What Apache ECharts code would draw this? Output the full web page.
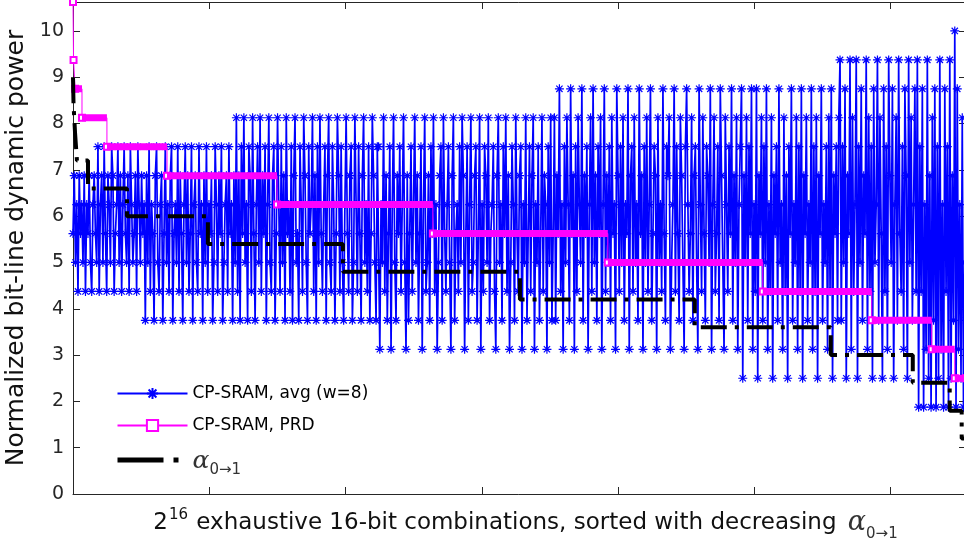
<!DOCTYPE html>
<html>
<head>
<meta charset="utf-8">
<script src="https://cdn.jsdelivr.net/npm/echarts@6/dist/echarts.min.js"></script>
<style>
html,body{margin:0;padding:0;background:#fff;}
#chart{width:964px;height:539px;}
</style>
</head>
<body>
<div id="chart"></div>
<script>
// ---- Data ----
const xMax = 65536;             // 2^16 combinations
const xTickStep = 10000;
const yTickLabels = [0,1,2,3,4,5,6,7,8,9,10];

// CP-SRAM, avg (w=8): values sampled evenly across the sorted combinations
const avgValues = [
 // region 0 .. ~5100
 5.625,6.875,5,6.25,4.375,6.875,5.625,6.25,5,6.875,
 4.375,6.25,5.625,6.875,5,4.375,6.25,6.875,5.625,5,
 7.5,4.375,6.25,6.875,5,7.5,5.625,4.375,6.875,6.25,
 5,7.5,6.875,4.375,5.625,6.25,7.5,5,6.875,4.375,
 6.25,7.5,5.625,5,6.875,4.375,7.5,6.25,5,5.625,
 6.875,4.375,7.5,6.25,5,6.875,5.625,
 // region ~5100 .. ~11800
 6.25,3.75,6.875,5,7.5,4.375,6.25,5.625,3.75,6.875,
 7.5,5,4.375,6.25,6.875,3.75,5.625,7.5,5,6.25,
 4.375,6.875,7.5,3.75,5.625,6.25,5,7.5,4.375,6.875,
 5.625,3.75,6.25,7.5,5,6.875,4.375,5.625,7.5,3.75,
 6.25,6.875,5,4.375,7.5,5.625,6.25,3.75,6.875,5,
 7.5,4.375,6.25,5.625,6.875,3.75,5,7.5,6.25,4.375,
 6.875,5.625,7.5,3.75,5,6.25,6.875,4.375,7.5,5.625,
 6.25,3.75,6.875,5,
 // region ~11800 .. ~22200
 8.125,4.375,6.875,3.75,7.5,5.625,8.125,5,6.25,3.75,
 7.5,6.875,4.375,8.125,5.625,3.75,6.25,7.5,5,8.125,
 4.375,6.875,5.625,7.5,3.75,6.25,8.125,5,4.375,6.875,
 7.5,3.75,5.625,8.125,6.25,4.375,7.5,5,6.875,3.75,
 8.125,5.625,6.25,4.375,7.5,3.75,6.875,8.125,5,5.625,
 3.75,7.5,6.25,4.375,8.125,6.875,5,3.75,7.5,5.625,
 6.25,8.125,4.375,6.875,3.75,7.5,5,8.125,5.625,4.375,
 6.25,7.5,3.75,6.875,8.125,5,4.375,7.5,6.25,3.75,
 5.625,8.125,6.875,4.375,7.5,5,3.75,6.25,8.125,5.625,
 4.375,6.875,7.5,3.75,5,8.125,6.25,4.375,7.5,5.625,
 3.75,6.875,8.125,5,6.25,4.375,7.5,3.75,5.625,8.125,
 6.875,5,3.75,7.5,
 // region ~22200 .. ~35000
 7.5,3.125,6.25,5,8.125,4.375,6.875,3.75,5.625,7.5,
 3.125,6.25,8.125,5,3.75,6.875,5.625,7.5,4.375,6.25,
 8.125,5,3.125,6.875,3.75,5.625,7.5,4.375,6.25,8.125,
 5,6.875,3.75,5.625,7.5,3.125,6.25,8.125,4.375,5,
 6.875,3.75,7.5,5.625,8.125,4.375,6.25,3.125,5,6.875,
 7.5,3.75,8.125,5.625,4.375,6.25,7.5,5,3.125,6.875,
 8.125,3.75,5.625,6.25,4.375,7.5,5,8.125,6.875,3.125,
 5.625,7.5,3.75,6.25,8.125,4.375,5,6.875,7.5,3.75,
 5.625,8.125,3.125,6.25,4.375,7.5,6.875,5,8.125,3.75,
 5.625,6.25,7.5,4.375,3.125,6.875,8.125,5,6.25,3.75,
 7.5,5.625,8.125,4.375,6.875,3.125,5,7.5,6.25,3.75,
 8.125,5.625,4.375,6.875,7.5,3.125,6.25,5,8.125,3.75,
 5.625,7.5,4.375,6.875,8.125,3.125,6.25,5,7.5,3.75,
 5.625,8.125,4.375,6.875,6.25,3.125,7.5,5,8.125,3.75,
 5.625,
 // region ~35000 .. ~48600
 8.125,3.75,6.875,5.625,8.75,4.375,6.25,3.125,7.5,5,
 8.125,6.25,3.75,8.75,5.625,6.875,3.125,7.5,4.375,8.125,
 6.25,5,8.75,3.75,6.875,5.625,7.5,3.125,6.25,8.125,
 4.375,8.75,5,6.875,3.75,7.5,5.625,8.125,3.125,6.25,
 8.75,4.375,6.875,5,7.5,3.75,8.125,5.625,6.25,3.125,
 8.75,6.875,4.375,7.5,5,8.125,3.75,6.25,5.625,8.75,
 3.125,6.875,7.5,4.375,8.125,5,6.25,3.75,8.75,5.625,
 6.875,3.125,7.5,5,8.125,4.375,6.25,8.75,3.75,5.625,
 7.5,6.875,3.125,8.125,5,6.25,4.375,8.75,5.625,3.75,
 7.5,6.875,8.125,3.125,5,6.25,8.75,4.375,7.5,5.625,
 3.75,8.125,6.875,5,3.125,7.5,8.75,6.25,4.375,5.625,
 8.125,3.75,6.875,7.5,5,3.125,8.75,6.25,4.375,8.125,
 5.625,3.75,7.5,6.875,5,8.75,3.125,6.25,8.125,4.375,
 5.625,7.5,3.75,8.75,6.875,5,3.125,8.125,6.25,4.375,
 7.5,5.625,8.75,3.75,6.875,5,8.125,3.125,6.25,7.5,
 // region ~48600 .. ~56100
 8.75,2.5,6.875,5,8.125,3.75,7.5,5.625,8.75,3.125,
 6.25,4.375,8.75,2.5,6.875,5.625,8.125,3.75,7.5,5,
 8.75,3.125,6.25,4.375,8.125,2.5,6.875,5.625,7.5,3.75,
 8.75,5,6.25,3.125,8.125,4.375,6.875,2.5,7.5,5.625,
 8.75,3.75,6.25,5,8.125,3.125,7.5,4.375,8.75,2.5,
 6.875,5.625,8.125,3.75,6.25,5,8.75,3.125,7.5,4.375,
 8.125,2.5,6.875,5.625,8.75,3.75,6.25,5,7.5,3.125,
 8.125,4.375,8.75,2.5,6.875,5.625,7.5,3.75,8.125,
 // region ~56100 .. ~61800
 9.375,3.75,7.5,5,8.75,2.5,6.875,5.625,9.375,3.125,
 8.125,4.375,6.25,9.375,2.5,7.5,5,8.75,3.75,6.875,
 5.625,9.375,3.125,8.125,4.375,7.5,2.5,8.75,5,6.25,
 9.375,3.75,8.125,5.625,2.5,8.75,4.375,7.5,3.125,9.375,
 6.875,5,8.75,2.5,6.25,8.125,3.75,9.375,5.625,4.375,
 7.5,3.125,8.75,6.875,2.5,9.375,5,8.125,3.75,6.25,
 8.75,4.375,
 // region ~61800 .. 65536
 9.375,1.875,7.5,4.375,8.75,1.875,6.25,3.125,9.375,2.5,
 6.875,1.875,8.125,3.75,8.75,1.875,7.5,2.5,9.375,3.125,
 6.25,1.875,8.75,4.375,7.5,1.875,9.375,2.5,6.875,3.75,
 10,1.875,8.75,3.125,6.25,2.5,8.125,1.875,5,3.75
];

// CP-SRAM, PRD: step levels and where each level starts
const prdStarts = [0, 40, 150, 660, 2490, 6900, 14970, 26410, 39250, 50620, 58620, 63020, 64710];
const prdLevels = [10.625, 9.375, 8.75, 8.125, 7.5, 6.875, 6.25, 5.625, 5.0, 4.375, 3.75, 3.125, 2.5];

// alpha_{0->1}: step levels and where each level starts
const alphaStarts = [0, 40, 150, 290, 1100, 3960, 9900, 19810, 32800, 45630, 55610, 61630, 64340, 65220];
const alphaLevels = [9.0, 8.4, 7.8, 7.2, 6.6, 6.0, 5.4, 4.8, 4.2, 3.6, 3.0, 2.4, 1.8, 1.2];

// ---- Build series data ----
const avgData = avgValues.map((v, i) => [i * xMax / (avgValues.length - 1), v]);

function stepData(starts, levels) {
  const d = starts.map((s, i) => [s, levels[i]]);
  d.push([xMax, levels[levels.length - 1]]);
  return d;
}
function barData(starts, levels, fromIdx) {
  const d = [];
  for (let i = fromIdx; i < starts.length; i++) {
    const end = i + 1 < starts.length ? starts[i + 1] : xMax;
    d.push([starts[i], levels[i]]);
    d.push([end, levels[i]]);
    d.push(null);
  }
  return d;
}

const FONT = 'DejaVu Sans';
const AX = '#262626';
const asterisk = 'path://M0,-6L0,6M-6,0L6,0M-4.2,-4.2L4.2,4.2M-4.2,4.2L4.2,-4.2';

const chart = echarts.init(document.getElementById('chart'), null, {renderer: 'canvas'});
chart.setOption({
  animation: false,
  backgroundColor: '#fff',
  grid: {left: 73, top: 2, width: 893, height: 492, containLabel: false, outerBoundsMode: 'none'},
  legend: {
    orient: 'vertical',
    left: 110,
    top: 380,
    itemWidth: 70,
    itemHeight: 14,
    itemGap: 15,
    data: [
      'CP-SRAM, avg (w=8)',
      'CP-SRAM, PRD',
      {name: 'alpha', itemStyle: {opacity: 0}, lineStyle: {type: [46, 10, 5, 10], width: 5}}
    ],
    textStyle: {
      fontFamily: FONT, fontSize: 17, color: '#000',
      rich: {
        a: {fontFamily: 'DejaVu Serif', fontStyle: 'italic', fontSize: 25, color: '#333', verticalAlign: 'bottom', lineHeight: 28},
        s: {fontFamily: FONT, fontSize: 15, color: '#333', verticalAlign: 'bottom', lineHeight: 16, padding: [0,0,-4,0]}
      }
    },
    formatter: function (n) { return n === 'alpha' ? '{a|α}{s|0→1}' : n; }
  },
  xAxis: [{
    type: 'value', min: 0, max: xMax, interval: xTickStep, position: 'bottom',
    axisLine: {show: true, onZero: false, lineStyle: {color: AX, width: 1}},
    axisTick: {show: true, inside: true, length: 7, lineStyle: {color: AX}},
    axisLabel: {show: false},
    splitLine: {show: false},
    name: '{t|2}{sup|16}{t| exhaustive 16-bit combinations, sorted with decreasing }{a|α}{sub|0→1}',
    nameLocation: 'middle',
    nameGap: 14,
    nameTextStyle: {
      padding: [0, 0, 0, 12],
      rich: {
        t: {fontFamily: FONT, fontSize: 23, color: '#111', lineHeight: 30, verticalAlign: 'middle'},
        sup: {fontFamily: FONT, fontSize: 15, color: '#111', lineHeight: 30, verticalAlign: 'top', padding: [0,1,0,1]},
        a: {fontFamily: 'DejaVu Serif', fontStyle: 'italic', fontSize: 27, color: '#333', lineHeight: 30, verticalAlign: 'middle', padding: [0,0,0,4]},
        sub: {fontFamily: FONT, fontSize: 15, color: '#333', lineHeight: 30, verticalAlign: 'bottom', padding: [0,0,-4,0]}
      }
    }
  }, {
    type: 'value', min: 0, max: xMax, interval: xTickStep, position: 'top',
    axisLine: {show: true, onZero: false, lineStyle: {color: AX, width: 1}},
    axisTick: {show: true, inside: true, length: 7, lineStyle: {color: AX}},
    axisLabel: {show: false},
    splitLine: {show: false}
  }],
  yAxis: [{
    type: 'value', min: 0, max: 10.625, interval: 1, position: 'left',
    axisLine: {show: true, onZero: false, lineStyle: {color: AX, width: 1}},
    axisTick: {show: true, inside: true, length: 7, lineStyle: {color: AX}},
    axisLabel: {
      show: true, fontFamily: FONT, fontSize: 19, color: '#262626', margin: 9,
      formatter: v => (yTickLabels.indexOf(v) >= 0 ? String(v) : '')
    },
    splitLine: {show: false},
    name: 'Normalized bit-line dynamic power',
    nameLocation: 'middle',
    nameGap: 37,
    nameTextStyle: {fontFamily: FONT, fontSize: 25, color: '#111'}
  }, {
    type: 'value', min: 0, max: 10.625, interval: 1, position: 'right',
    axisLine: {show: true, onZero: false, lineStyle: {color: AX, width: 1}},
    axisTick: {show: true, inside: true, length: 7, lineStyle: {color: AX}},
    axisLabel: {show: false},
    splitLine: {show: false}
  }],
  series: [
    {
      name: 'CP-SRAM, avg (w=8)',
      type: 'line',
      data: avgData,
      z: 2,
      symbol: asterisk,
      symbolSize: 9,
      showSymbol: true,
      itemStyle: {color: '#0000ff', borderColor: '#0000ff', borderWidth: 1.2},
      lineStyle: {color: '#0000ff', width: 1.7, opacity: 1},
      clip: true
    },
    {
      name: 'CP-SRAM, PRD',
      type: 'line',
      step: 'end',
      data: stepData(prdStarts, prdLevels),
      z: 3,
      symbol: 'emptyRect',
      symbolSize: 6,
      itemStyle: {color: '#ff00ff', borderColor: '#ff00ff', borderWidth: 1.2},
      lineStyle: {color: '#ff00ff', width: 1},
      clip: true
    },
    {
      name: 'PRD-bars',
      type: 'line',
      data: barData(prdStarts, prdLevels, 2),
      z: 4,
      symbol: 'none',
      connectNulls: false,
      lineStyle: {color: '#ff00ff', width: 7, cap: 'butt'},
      silent: true,
      clip: true
    },
    {
      name: 'alpha',
      type: 'line',
      step: 'end',
      data: stepData(alphaStarts, alphaLevels),
      z: 5,
      symbol: 'none',
      itemStyle: {color: '#000'},
      lineStyle: {color: '#000', width: 4, type: [26, 8, 4, 8], cap: 'butt'},
      clip: true
    }
  ]
});
</script>
</body>
</html>
